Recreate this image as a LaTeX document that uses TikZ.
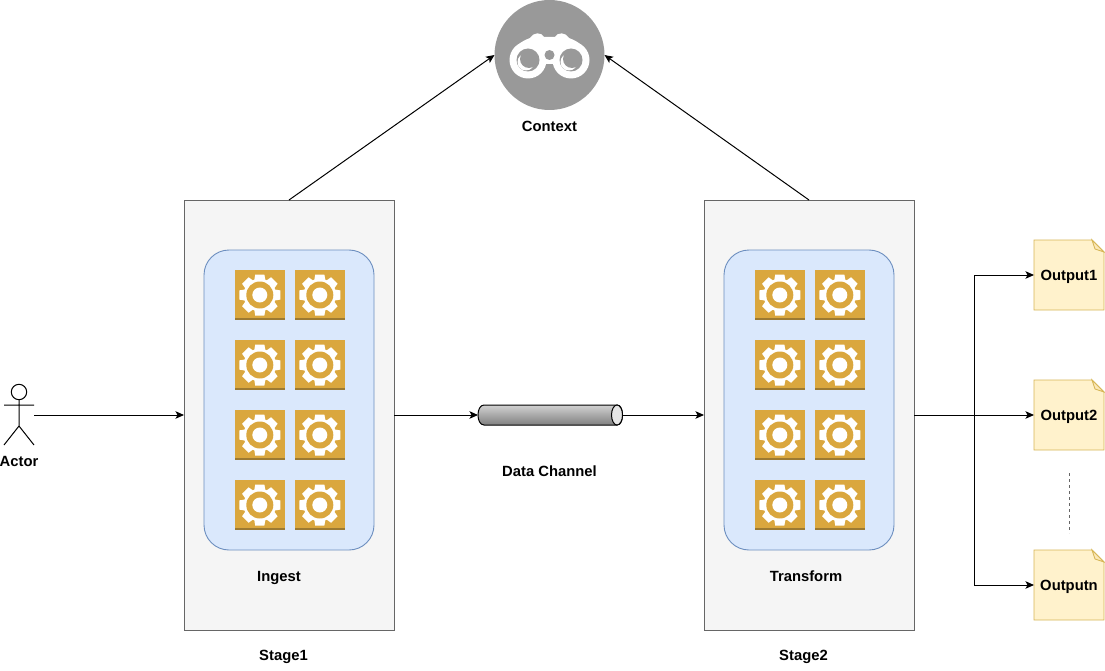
\documentclass[tikz,border=0pt]{standalone}
\usepackage{fontspec}
\setmainfont{Liberation Sans}
\usetikzlibrary{arrows.meta,calc}
\definecolor{gold}{HTML}{DAA73E}
\definecolor{golddark}{HTML}{9C7A32}
\definecolor{ctxgray}{HTML}{999999}
\definecolor{notefill}{HTML}{FFF2CC}
\definecolor{notefold}{HTML}{FBE8B8}
\definecolor{notedraw}{HTML}{D6B656}
\definecolor{innerfill}{HTML}{DAE8FC}
\definecolor{innerdraw}{HTML}{6C8EBF}
\definecolor{stagefill}{HTML}{F5F5F5}
\definecolor{stagedraw}{HTML}{666666}
\tikzset{
  every node/.style={inner sep=0pt,outer sep=0pt},
  lbl/.style={font=\fontsize{14.8}{16}\selectfont\bfseries,text=black},
  stagebox/.style={draw=stagedraw,fill=stagefill,line width=.9pt,minimum width=210pt,minimum height=430pt},
  innerbox/.style={draw=innerdraw,fill=innerfill,line width=.9pt,rounded corners=25pt,minimum width=170pt,minimum height=300pt},
  gearbox/.style={fill=gold,minimum width=50pt,minimum height=50pt},
  arr/.style={draw=black,line width=1pt,-{Stealth[length=8.5pt,width=7.5pt,inset=2pt]}},
  notestyle/.style={draw=none,minimum width=70pt,minimum height=70pt},
}
\newcommand{\gearat}[3]{%
  \node[gearbox] (#1) at (#2,#3) {};
  \fill[golddark] ($(#1.south west)+(0,-2)$) rectangle (#1.south east);
  \begin{scope}[shift={(#1.center)}]
    \fill[white] (0,0) circle (16.3);
    \foreach \a in {0,45,...,315}{
      \fill[white,rotate=\a] (-4.6,-20.5) -- (4.6,-20.5) -- (6,-12) -- (-6,-12) -- cycle;
    }
    \fill[gold] (0,0) circle (13.5);
    \fill[white] (0,0) circle (7.5);
  \end{scope}
}
\newcommand{\gearsfor}[2]{%
  \foreach \c/\cx in {a/0,b/60}{
    \foreach \r/\ry in {1/295,2/365,3/435,4/505}{
      \pgfmathsetmacro{\xx}{#2+\cx}
      \gearat{#1\c\r}{\xx}{\ry}
    }
  }
}
\newcommand{\notepath}[1]{%
  \fill[notefill,draw=notedraw,line width=.9pt] (#1.north west) -- ($(#1.north east)+(-12,0)$) -- ($(#1.north east)+(0,12)$) -- (#1.south east) -- (#1.south west) -- cycle;
  \draw[fill=notefold,draw=notedraw,line width=.9pt] ($(#1.north east)+(-12,0)$) -- ($(#1.north east)+(-9,9)$) -- ($(#1.north east)+(0,12)$) -- cycle;
}
\begin{document}
\begin{tikzpicture}[x=1pt,y=-1pt]
\useasboundingbox (0,0) rectangle (1105,671);

% stages
\node[stagebox] (stage1) at (289,415) {};
\node[stagebox] (stage2) at (809,415) {};
\node[innerbox] (ingest) at (289,400) {};
\node[innerbox] (transform) at (809,400) {};
\gearsfor{g}{259.8}
\gearsfor{h}{779.8}

% context
\node[circle,fill=ctxgray,minimum size=110pt] (context) at (549.5,55) {};
\begin{scope}
  \fill[white] (528,60) circle (18.5);
  \fill[white] (571,60) circle (18.5);
  \fill[white] (510,58) .. controls (513,46) and (522,41) .. (530,38)
     .. controls (533,32) and (542,32) .. (544,37) -- (555,37)
     .. controls (557,32) and (566,32) .. (569,38)
     .. controls (577,41) and (586,46) .. (589,58)
     -- (571,64) -- (549.5,64) -- (528,64) -- cycle;
  \fill[ctxgray] (549.5,55) circle (5);
  \foreach \lx in {528,571}{
    \fill[ctxgray] (\lx,60) circle (11.5);
    \fill[white] (\lx-2,62) circle (8.5);
    \fill[ctxgray] (\lx+1,59) circle (9);
  }
\end{scope}

% actor
\node[minimum width=30pt,minimum height=60pt] (actor) at (19,415) {};
\draw[line width=1pt] (19,392) circle (7.7);
\draw[line width=1pt] (19,399.7) -- (19,426) (4,405) -- (34,405) (4,445) -- (19,426) -- (34,445);

% channel
\node[minimum width=145pt,minimum height=20pt] (channel) at (550.5,415) {};
\shade[top color=black!18,bottom color=black!50,draw=black,line width=1pt]
  (484,405) -- (617,405)
  .. controls (621,405) and (622.5,410) .. (622.5,415)
  .. controls (622.5,420) and (621,425) .. (617,425)
  -- (484,425)
  .. controls (480,425) and (478,420) .. (478,415)
  .. controls (478,410) and (480,405) .. (484,405) -- cycle;
\draw[fill=black!10,line width=1pt] (617,415) ellipse (5.5 and 10);

% outputs
\node[notestyle] (out1) at (1069,275) {};
\node[notestyle] (out2) at (1069,415) {};
\node[notestyle] (outn) at (1069,585) {};
\notepath{out1}\notepath{out2}\notepath{outn}
\node[lbl] at ($(out1.center)+(0,1.5)$) {Output1};
\node[lbl] at ($(out2.center)+(0,1.5)$) {Output2};
\node[lbl] at ($(outn.center)+(0,1.5)$) {Outputn};
\coordinate (dotA) at (1069.5,473);
\coordinate (dotB) at (1069.5,533);
\draw[draw=stagedraw,line width=1.2pt,dash pattern=on 3pt off 3pt] (dotA) -- (dotB);

% connectors
\draw[arr] (actor.east) -- (stage1.west);
\draw[arr] (stage1.east) -- (channel.west);
\draw[arr] (channel.east) -- (stage2.west);
\draw[arr] (stage1.north) -- (context.west);
\draw[arr] (stage2.north) -- (context.east);
\coordinate (fork) at (974,415);
\draw[arr] (stage2.east) -- (out2.west);
\draw[arr] (fork) |- (out1.west);
\draw[arr] (fork) |- (outn.west);

% labels
\node[lbl] (lctx) at (549.5,126.5) {Context};
\node[lbl] (lact) at (19,461.5) {Actor};
\node[lbl] (lch) at (549.5,471.5) {Data Channel};
\node[lbl] (ling) at (279,578) {Ingest};
\node[lbl] (ltr) at (806,576) {Transform};
\node[lbl] (ls1) at (283.5,656.5) {Stage1};
\node[lbl] (ls2) at (803.5,656.5) {Stage2};
\end{tikzpicture}
\end{document}
